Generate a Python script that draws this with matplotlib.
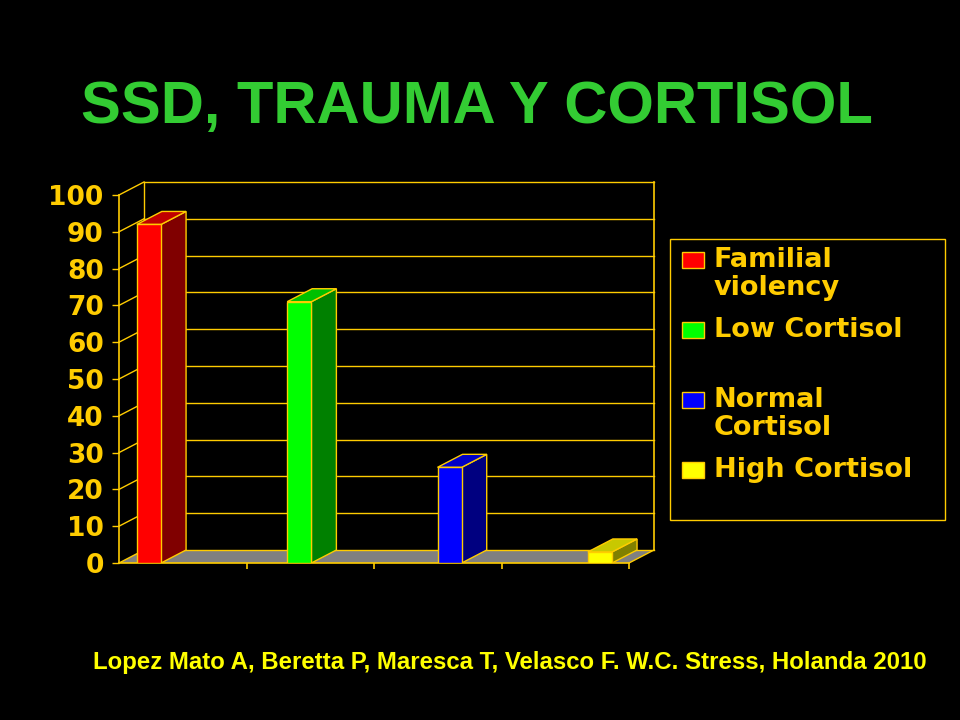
import matplotlib
matplotlib.use("Agg")
import matplotlib.pyplot as plt
from matplotlib.patches import Polygon, Rectangle

# ---------------- data ----------------
title = "SSD, TRAUMA Y CORTISOL"
citation = "Lopez Mato A, Beretta P, Maresca T, Velasco F. W.C. Stress, Holanda 2010"
series_labels = ["Familial\nviolency", "Low Cortisol", "Normal\nCortisol", "High Cortisol"]
series_values = [92, 71, 26, 3]
y_ticks = [0, 10, 20, 30, 40, 50, 60, 70, 80, 90, 100]
y_tick_labels = ["0", "10", "20", "30", "40", "50", "60", "70", "80", "90", "100"]

# ---------------- style ----------------
front_colors = ["#FF0000", "#00FF00", "#0000FF", "#FFFF00"]
side_colors = ["#800000", "#008000", "#000080", "#808000"]
top_colors = ["#C00000", "#00C000", "#0000C8", "#C8C800"]
gold = "#FFCC00"
W, H = 960, 720

def fx(px):
    return px / W

def fy(py):
    return 1 - py / H

fig = plt.figure(figsize=(9.6, 7.2), dpi=100, facecolor="black")

# chart axes: front axis from x=119px, back wall to 654px; y 0 at 563px, top of back wall at 182px
ax = fig.add_axes([fx(119), fy(563), (654 - 119) / W, (563 - 182) / H])
ax.set_facecolor("none")
n = len(series_values)
ymax = y_ticks[-1]
dx = 0.196   # depth offset in x units
dy = 3.53    # depth offset in y units
ax.set_xlim(0, n + dx)
ax.set_ylim(0, ymax + dy)

# floor
ax.add_patch(Polygon([(0, 0), (n, 0), (n + dx, dy), (dx, dy)], closed=True,
                     facecolor="#808080", edgecolor="none", zorder=1))
# floor right edge
ax.plot([n, n + dx], [0, dy], color=gold, lw=1, zorder=2, clip_on=False)
# back wall verticals
ax.plot([dx, dx], [dy, ymax + dy], color=gold, lw=1, zorder=2, clip_on=False)
ax.plot([n + dx, n + dx], [dy, ymax + dy], color=gold, lw=1.2, zorder=2, clip_on=False)
# gridlines on back wall and left wall
for v in y_ticks:
    ax.plot([dx, n + dx], [v + dy, v + dy], color=gold, lw=1, zorder=2, clip_on=False)
    ax.plot([0, dx], [v, v + dy], color=gold, lw=1, zorder=2, clip_on=False)

# 3D bars
bw = 0.19
step = 1.179
first = 0.14
for i, v in enumerate(series_values):
    x0 = first + i * step
    x1 = x0 + bw
    ax.add_patch(Polygon([(x1, 0), (x1 + dx, dy), (x1 + dx, v + dy), (x1, v)], closed=True,
                         facecolor=side_colors[i], edgecolor=gold, lw=1, zorder=4))
    ax.add_patch(Polygon([(x0, v), (x0 + dx, v + dy), (x1 + dx, v + dy), (x1, v)], closed=True,
                         facecolor=top_colors[i], edgecolor=gold, lw=1, zorder=4))
    ax.add_patch(Rectangle((x0, 0), bw, v, facecolor=front_colors[i], edgecolor=gold,
                           lw=1, zorder=5))

# axes spines / ticks
for s in ["top", "right"]:
    ax.spines[s].set_visible(False)
ax.spines["left"].set_bounds(0, ymax)
ax.spines["bottom"].set_bounds(0, n)
for s in ["left", "bottom"]:
    ax.spines[s].set_color(gold)
    ax.spines[s].set_linewidth(1.2)
    ax.spines[s].set_zorder(3)
ax.set_yticks(y_ticks)
ax.set_yticklabels(y_tick_labels)
ax.set_xticks(list(range(1, n + 1)))
ax.set_xticklabels([])
ax.tick_params(axis="y", colors=gold, length=5, width=1, pad=6, labelsize=19)
ax.tick_params(axis="x", colors=gold, length=4.5, width=1.2)
for lbl in ax.get_yticklabels():
    lbl.set_fontweight("bold")
    lbl.set_family("DejaVu Sans")

# legend box (manual)
fig.patches.append(Rectangle((fx(670), fy(520)), (945 - 670) / W, (520 - 239) / H,
                             transform=fig.transFigure, facecolor="black",
                             edgecolor=gold, lw=1, zorder=1))
for i, lab in enumerate(series_labels):
    cy = 260 + 70 * i
    fig.patches.append(Rectangle((fx(682), fy(cy + 8)), 22 / W, 16 / H,
                                 transform=fig.transFigure, facecolor=front_colors[i],
                                 edgecolor=gold, lw=1, zorder=2))
    fig.text(fx(714), fy(cy - 13), lab, color=gold, fontsize=19.5, fontweight="bold",
             family="DejaVu Sans", ha="left", va="top", linespacing=1.12)

# title and citation
fig.text(fx(477), fy(108), title, color="#33CC33", fontsize=43, fontweight="bold",
         family=["Liberation Sans", "DejaVu Sans"], ha="center", va="center")
fig.text(fx(510), fy(662), citation, color="#FFFF00", fontsize=17.3, fontweight="bold",
         family=["Liberation Sans Narrow", "Liberation Sans", "DejaVu Sans"],
         ha="center", va="center")

fig.savefig("out.png", dpi=100, facecolor="black")
